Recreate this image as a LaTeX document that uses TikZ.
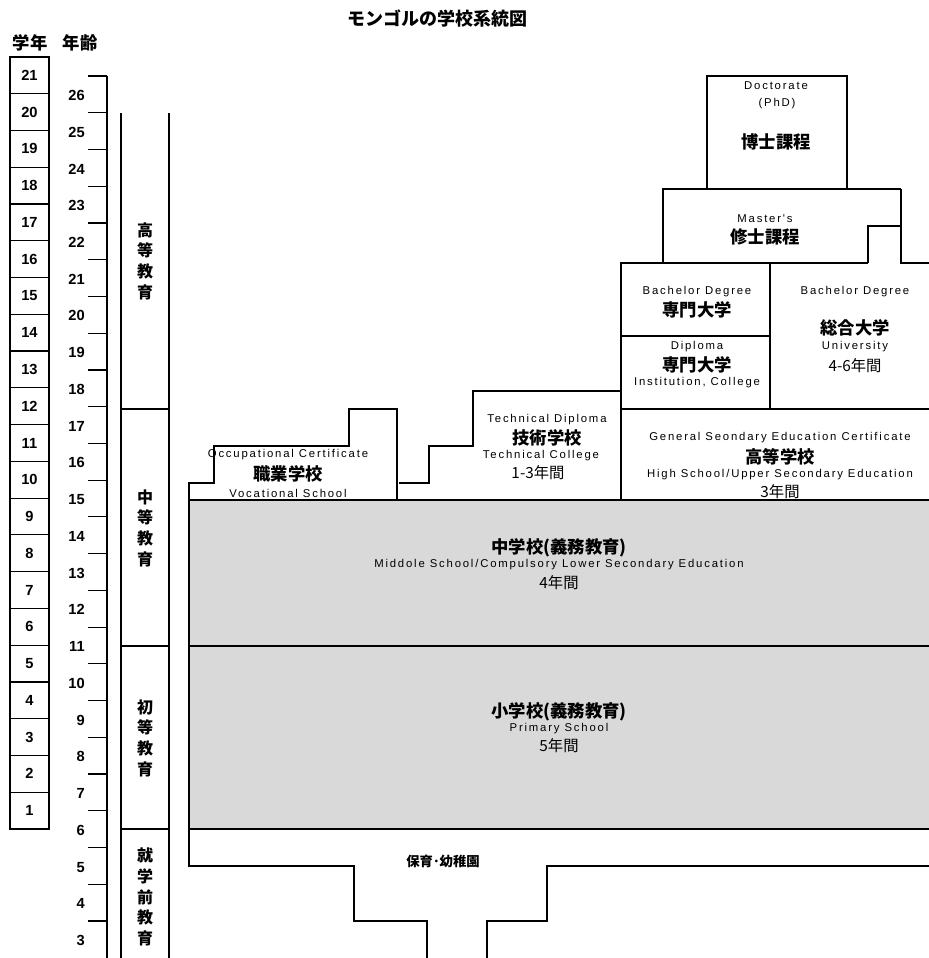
\documentclass[tikz,border=0pt]{standalone}
\usepackage{fontspec}
\newfontfamily\cjk{Noto Sans CJK JP}
\newfontfamily\latf[LetterSpace=16]{Liberation Sans}
\newfontfamily\numf{Liberation Sans}
\definecolor{bg}{RGB}{217,217,217}
\begin{document}
\begin{tikzpicture}[x=0.75pt,y=-0.75pt,
  ln/.style={line width=0.9pt, black},
  gf/.style={ln, fill=bg},
  lat/.style={font=\fontsize{8.5}{10}\selectfont\latf, inner sep=0},
  jb/.style={font=\fontsize{13}{15}\selectfont\cjk\bfseries, inner sep=0},
  jr/.style={font=\fontsize{11.5}{14}\selectfont\cjk, inner sep=0},
  num/.style={font=\fontsize{11}{13}\selectfont\numf\bfseries, inner sep=0},
  vt/.style={font=\fontsize{12}{15.5}\selectfont\cjk\bfseries, inner sep=0, align=center}]
\clip (0,0) rectangle (929,958);
\fill[white] (0,0) rectangle (929,958);
% title and headers
\node[jb, font=\fontsize{13.5}{15}\selectfont\cjk\bfseries] (title) at (437,19) {モンゴルの学校系統図};
\node[jb] (hgrade) at (30,43) {学年};
\node[jb] (hage) at (80,43) {年齢};
% grade boxes
\foreach \i [evaluate=\i as \n using int(21-\i)] in {0,...,20} {
  \draw[ln] (10,{57+36.76*\i}) rectangle (49,{57+36.76*(\i+1)});
  \node[num] (g\n) at (29.5,{57+36.76*\i+18.4}) {\n};
}
% age scale
\draw[ln] (107,76) -- (107,962);
\foreach \k [evaluate=\k as \a using int(26-\k)] in {0,...,23} {
  \draw[ln] (88,{76+36.74*\k}) -- (107,{76+36.74*\k});
  \node[num, anchor=east] (a\a) at (85,{76+36.74*\k+19.5}) {\a};
}
% stage column
\draw[ln] (121,113) -- (121,962);
\draw[ln] (169,113) -- (169,962);
\foreach \y in {409,646,829} \draw[ln] (121,\y) -- (169,\y);
\node[vt] (s1) at (145,261) {高\\等\\教\\育};
\node[vt] (s2) at (145,528) {中\\等\\教\\育};
\node[vt] (s3) at (145,738) {初\\等\\教\\育};
\node[vt] (s4) at (145,897) {就\\学\\前\\教\\育};
% gray compulsory blocks
\filldraw[gf] (189,500) rectangle (935,646);
\filldraw[gf] (189,646) rectangle (935,829);
% preschool
\draw[ln] (189,829) -- (189,866) -- (354,866) -- (354,921) -- (427,921) -- (427,962);
\draw[ln] (487,962) -- (487,921) -- (547,921) -- (547,866) -- (935,866);
% vocational
\draw[ln] (189,500) -- (189,483) -- (214,483) -- (214,446) -- (349,446) -- (349,409) -- (397,409) -- (397,500);
% technical
\draw[ln] (399,483) -- (429,483) -- (429,446) -- (473,446) -- (473,391) -- (621,391);
% high school
\draw[ln] (621,500) -- (621,409) -- (935,409);
% bachelor / diploma column
\draw[ln] (621,409) -- (621,263) -- (868,263);
\draw[ln] (621,336) -- (770,336);
\draw[ln] (770,263) -- (770,409);
% university notch
\draw[ln] (868,263) -- (868,226) -- (901,226);
\draw[ln] (901,189) -- (901,263) -- (935,263);
% master's
\draw[ln] (663,263) -- (663,189) -- (901,189);
% doctorate
\draw[ln] (707,189) -- (707,76) -- (847,76) -- (847,189);
% texts: doctorate
\node[lat] (phd1) at (776,86) {Doctorate};
\node[lat] (phd2) at (777,104) {(PhD)};
\node[jb] (phd3) at (776,142) {博士課程};
% master
\node[lat] (ms1) at (765,219) {Master's};
\node[jb] (ms2) at (765,237) {修士課程};
% bachelor (specialized)
\node[lat] (bd1) at (697,292) {Bachelor Degree};
\node[jb] (bd2) at (697,310) {専門大学};
% diploma
\node[lat] (dp1) at (697,347) {Diploma};
\node[jb] (dp2) at (697,365) {専門大学};
\node[lat] (dp3) at (697,383) {Institution, College};
% university
\node[lat] (un1) at (855,292) {Bachelor Degree};
\node[jb] (un2) at (855,328) {総合大学};
\node[lat] (un3) at (855,347) {University};
\node[jr] (un4) at (855,366) {4-6年間};
% high school
\node[lat] (hs1) at (780,438) {General Seondary Education Certificate};
\node[jb] (hs2) at (780,457) {高等学校};
\node[lat] (hs3) at (780,475) {High School/Upper Secondary Education};
\node[jr] (hs4) at (780,492) {3年間};
% technical
\node[lat] (tc1) at (547,420) {Technical Diploma};
\node[jb] (tc2) at (547,438) {技術学校};
\node[lat] (tc3) at (541,456) {Technical College};
\node[jr] (tc4) at (538,473) {1-3年間};
% vocational
\node[lat] (vc1) at (288,455) {Occupational Certificate};
\node[jb] (vc2) at (288,474) {職業学校};
\node[lat] (vc3) at (288,493) {Vocational School};
% middle school
\node[jb] (md1) at (559,548) {中学校(義務教育)};
\node[lat] (md2) at (559,565) {Middole School/Compulsory Lower Secondary Education};
\node[jr] (md3) at (559,583) {4年間};
% primary
\node[jb] (pr1) at (559,712) {小学校(義務教育)};
\node[lat] (pr2) at (559,729) {Primary School};
\node[jr] (pr3) at (559,746) {5年間};
% preschool
\node[jb, font=\fontsize{10}{12}\selectfont\cjk\bfseries] (ps) at (443,861) {保育･幼稚園};
\end{tikzpicture}
\end{document}
